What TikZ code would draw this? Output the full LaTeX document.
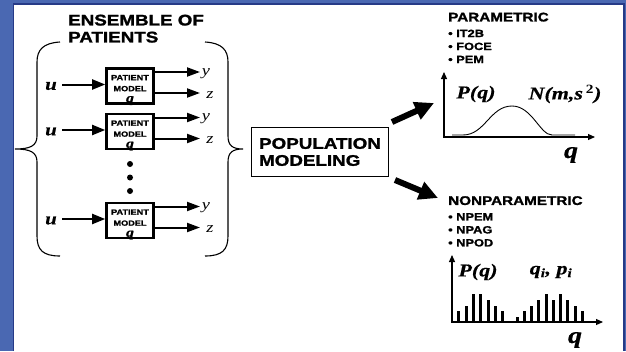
\documentclass[tikz,border=0pt]{standalone}
\usepackage{fontspec}
\usepackage{tikz}
\usetikzlibrary{arrows.meta}
\setmainfont{Liberation Serif}
\newfontfamily\hvsans[FakeStretch=1.22, BoldFeatures={FakeBold=1.5}]{Liberation Sans}
\newfontfamily\tmserif[FakeStretch=1.22, BoldItalicFeatures={FakeBold=0.6}]{Liberation Serif}
\definecolor{frameblue}{RGB}{74,104,178}
\definecolor{framedark}{RGB}{38,58,135}

\tikzset{
  hdr/.style={font=\hvsans\bfseries\fontsize{15.4}{17}\selectfont, align=left, inner sep=0pt},
  ttl/.style={font=\hvsans\bfseries\fontsize{12.5}{14}\selectfont, inner sep=0pt},
  blt/.style={font=\hvsans\bfseries\fontsize{10.5}{13}\selectfont, align=left, inner sep=0pt},
  model/.style={draw, line width=2.6pt, minimum width=47pt, minimum height=35pt, inner sep=0pt},
  modeltxt/.style={font=\hvsans\bfseries\fontsize{7.5}{11}\selectfont, align=center, inner sep=0pt},
  invar/.style={font=\tmserif\bfseries\itshape\fontsize{17}{17}\selectfont, inner sep=0pt},
  outvar/.style={font=\tmserif\itshape\fontsize{15}{15}\selectfont, inner sep=0pt},
  mathlbl/.style={font=\tmserif\bfseries\itshape\fontsize{18}{18}\selectfont, inner sep=0pt},
  biglbl/.style={font=\tmserif\bfseries\itshape\fontsize{23}{23}\selectfont, inner sep=0pt},
  inarrow/.style={line width=2pt, -{Triangle[length=13pt,width=10pt]}},
  outarrow/.style={line width=2pt, -{Triangle[length=13pt,width=9pt]}},
  bigarrow/.style={line width=6pt, -{Triangle[length=19pt,width=18pt]}},
  axis/.style={line width=1.1pt, {Triangle[length=7pt,width=6pt]}-{Triangle[length=7pt,width=6pt]}},
  brace/.style={line width=1.1pt}
}

\begin{document}
\begin{tikzpicture}[x=1pt, y=-1pt]
\useasboundingbox (0,0) rectangle (626,351);
% frame
\fill[frameblue] (0,0) rectangle (626,351);
\fill[white] (14,4) rectangle (623.5,351);
\draw[framedark, line width=1.6pt] (13.5,351) -- (13.5,3.8) -- (624,3.8) -- (624,351);

% ensemble of patients
\node[hdr, anchor=north west] (ensemble) at (68,14.5) {ENSEMBLE OF\\PATIENTS};
\foreach \i/\c in {1/86, 2/131.5, 3/220.5} {
  \node[model] (m\i) at (130,\c) {};
  \node[modeltxt] (t\i) at (130,\c+4) {PATIENT\\MODEL\\{\tmserif\bfseries\itshape\fontsize{13}{13}\selectfont q}};
  \coordinate (in\i) at (62,\c-1.5);
  \node[invar] (u\i) at (51,\c) {u};
  \draw[inarrow] (in\i) -- (in\i -| m\i.west);
  \coordinate (yo\i) at (200,\c-14);
  \coordinate (zo\i) at (200,\c+7);
  \draw[outarrow] (yo\i -| m\i.east) -- (yo\i);
  \draw[outarrow] (zo\i -| m\i.east) -- (zo\i);
  \node[outvar] (y\i) at (206,\c-12.5) {y};
  \node[outvar] (z\i) at (210,\c+9) {z};
}
\foreach \yy in {164,177.5,191}
  \fill (130,\yy) circle (3pt);

% braces
\draw[brace] (60,42) .. controls (43,43) and (37,50) .. (37,62) -- (37,136)
  .. controls (37,146) and (30,149) .. (15,149) .. controls (30,149) and (37,152) .. (37,162)
  -- (37,236) .. controls (37,250) and (43,256) .. (60,256);
\draw[brace] (205,42) .. controls (222,43) and (228,50) .. (228,62) -- (228,136)
  .. controls (228,146) and (233,149) .. (243,149) .. controls (233,149) and (228,152) .. (228,162)
  -- (228,236) .. controls (228,250) and (222,256) .. (205,256);

% population modeling
\node[hdr, draw, line width=1pt, minimum width=137pt, minimum height=49pt] (pop) at (320,152) {POPULATION\\MODELING};
\coordinate (parin) at (434,103);
\coordinate (nparin) at (438,198);
\draw[bigarrow] ([shift={(3pt,5pt)}]pop.north east) -- (parin);
\draw[bigarrow] ([shift={(6pt,-3pt)}]pop.south east) -- (nparin);

% parametric
\node[ttl, anchor=north west] (par) at (448,12.5) {PARAMETRIC};
\node[blt, anchor=north west] (parlist) at (448,29.5) {•~IT2B\\•~FOCE\\•~PEM};
\draw[axis] (444,72) |- (595,137);
\draw[line width=0.9pt] (452,135) -- (463,135) .. controls (485,135) and (490,106) .. (512,106)
  .. controls (532,106) and (540,135) .. (552,135) -- (575,135);
\node[mathlbl] (pq1) at (476,94) {P(q)};
\node[mathlbl] (nms) at (565,94) {N(m,s\,\textsuperscript{\upshape 2})};
\node[biglbl] (q1) at (571,155) {q};

% nonparametric
\node[ttl, anchor=north west] (npar) at (448,196) {NONPARAMETRIC};
\node[blt, anchor=north west] (nparlist) at (448,213) {•~NPEM\\•~NPAG\\•~NPOD};
\draw[axis] (452,255) |- (603,322);
\foreach \bx/\bh in {458/11, 466/16, 473/28, 480/28, 488/22, 495/16, 502/11,
                     517/5, 524/11, 531/16, 538/22, 546/28, 553/22, 560/28, 567/22, 575/16, 582/11}
  \fill (\bx-1.5,322) rectangle ++(3,-\bh);
\node[mathlbl] (pq2) at (478,272) {P(q)};
\node[mathlbl] (qp) at (551,272) {q\textsubscript{i}, p\textsubscript{i}};
\node[biglbl] (q2) at (575,340) {q};
\end{tikzpicture}
\end{document}
